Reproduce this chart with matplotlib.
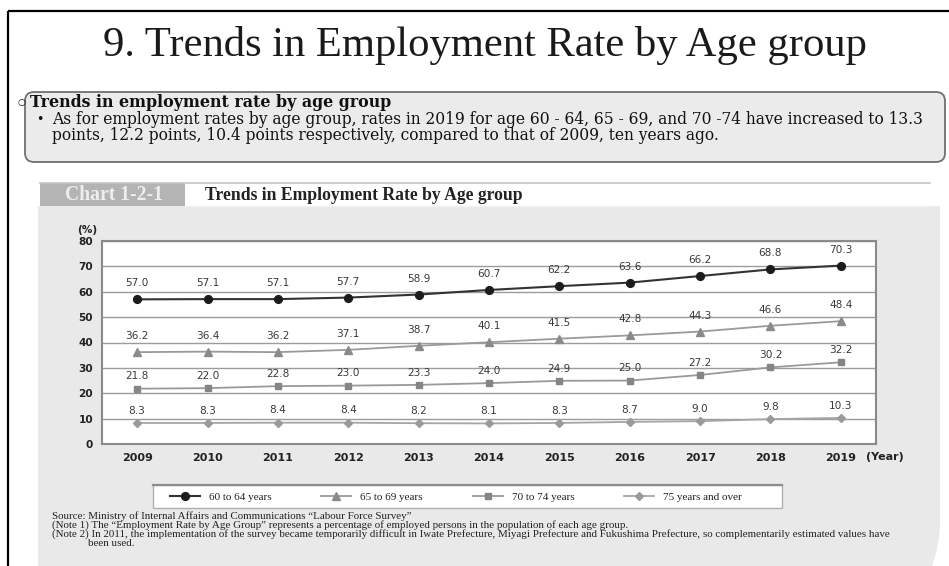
import matplotlib
matplotlib.use("Agg")
import numpy as np
import matplotlib.pyplot as plt
from matplotlib.patches import FancyBboxPatch, Rectangle, Polygon

# ---- data -------------------------------------------------------------
years = ["2009", "2010", "2011", "2012", "2013", "2014",
         "2015", "2016", "2017", "2018", "2019"]
rate_60_64 = [57.0, 57.1, 57.1, 57.7, 58.9, 60.7, 62.2, 63.6, 66.2, 68.8, 70.3]
rate_65_69 = [36.2, 36.4, 36.2, 37.1, 38.7, 40.1, 41.5, 42.8, 44.3, 46.6, 48.4]
rate_70_74 = [21.8, 22.0, 22.8, 23.0, 23.3, 24.0, 24.9, 25.0, 27.2, 30.2, 32.2]
rate_75_over = [8.3, 8.3, 8.4, 8.4, 8.2, 8.1, 8.3, 8.7, 9.0, 9.8, 10.3]
series_labels = ["60 to 64 years", "65 to 69 years", "70 to 74 years", "75 years and over"]
y_ticks = [0, 10, 20, 30, 40, 50, 60, 70, 80]

title = "9. Trends in Employment Rate by Age group"
summary_head = "Trends in employment rate by age group"
summary_lines = [
    "As for employment rates by age group, rates in 2019 for age 60 - 64, 65 - 69, "
    "and 70 -74 have increased to 13.3",
    "points, 12.2 points, 10.4 points respectively, compared to that of 2009, ten years ago.",
]
chart_tag = "Chart 1-2-1"
chart_title = "Trends in Employment Rate by Age group"
notes = [
    "Source: Ministry of Internal Affairs and Communications \u201cLabour Force Survey\u201d",
    "(Note 1) The \u201cEmployment Rate by Age Group\u201d represents a percentage of employed "
    "persons in the population of each age group.",
    "(Note 2) In 2011, the implementation of the survey became temporarily difficult in Iwate "
    "Prefecture, Miyagi Prefecture and Fukushima Prefecture, so complementarily estimated values have",
    "been used.",
]

# ---- figure and page background (pixel coordinates) -------------------
W, H = 949, 566
fig = plt.figure(figsize=(W / 100, H / 100), dpi=100)
fig.patch.set_facecolor("white")

bg = fig.add_axes([0, 0, 1, 1], zorder=0)
bg.set_xlim(0, W)
bg.set_ylim(H, 0)
bg.axis("off")

SERIF = "Liberation Serif"
WIDE_SERIF = "DejaVu Serif"
SANS = "DejaVu Sans"
renderer = fig.canvas.get_renderer()


def fit_width(t, width):
    w = t.get_window_extent(renderer).width
    t.set_fontsize(t.get_fontsize() * width / w)
    return t


def frac(x0, y0, x1, y1):
    return [x0 / W, 1 - y1 / H, (x1 - x0) / W, (y1 - y0) / H]


# slide frame
bg.plot([8, 8], [11, H + 5], color="black", lw=1.6, solid_capstyle="butt")
bg.plot([8, W + 5], [11, 11], color="black", lw=1.6, solid_capstyle="butt")

# slide title
t = bg.text(485, 56, title, family=SERIF, fontsize=29, color="#1a1a1a",
            ha="center", va="baseline")
fit_width(t, 765)

# summary box
bg.add_patch(FancyBboxPatch((25, 92), 920, 70,
                            boxstyle="round,pad=0,rounding_size=9",
                            fc="#ebebeb", ec="#707070", lw=1.3))
body = bg.text(52, 124, summary_lines[0], family=WIDE_SERIF, fontsize=10,
               color="#111111", ha="left", va="baseline")
fit_width(body, 880)
bs = body.get_fontsize()
bg.text(52, 140, summary_lines[1], family=WIDE_SERIF, fontsize=bs,
        color="#111111", ha="left", va="baseline")
bg.text(40, 123, "\u2022", family=SANS, fontsize=bs * 0.8, color="#111111",
        ha="center", va="baseline")
head = bg.text(30, 107, summary_head, family=WIDE_SERIF, fontsize=10, weight="bold",
               color="#111111", ha="left", va="baseline")
fit_width(head, 362)
bg.text(22, 103, "\u25cb", family=SANS, fontsize=bs * 0.6, color="#111111",
        ha="center", va="center")

# chart panel: square top, wide rounded bottom-right corner
cx, cy, r = 804, 520, 136
ang = np.linspace(0, np.pi / 2, 30)
arc = np.column_stack([cx + r * np.cos(ang), cy + r * np.sin(ang)])
panel = np.vstack([[[38, 206], [940, 206], [940, 520]], arc, [[38, 656]]])
bg.add_patch(Polygon(panel, closed=True, fc="#e9e9e9", ec="none"))
bg.plot([40, 930], [183, 183], color="#c4c4c4", lw=1.2)
bg.plot([185, 930], [206, 206], color="#f2f2f2", lw=1.0)
bg.add_patch(Rectangle((40, 183), 145, 23, fc="#b4b4b4", ec="none"))
tag = bg.text(114, 195, chart_tag, family=SERIF, fontsize=11, weight="bold",
              color="#eeeeee", ha="center", va="center")
fit_width(tag, 98)
ct = bg.text(205, 195, chart_title, family=SERIF, fontsize=10.5, weight="bold",
             color="#222222", ha="left", va="center")
fit_width(ct, 318)

# legend frame
bg.add_patch(Rectangle((153, 485), 629, 23, fc="white", ec="#b0b0b0", lw=1.0))
bg.plot([153, 782], [485, 485], color="#8c8c8c", lw=1.6)

# notes
note_y = [519, 528, 537, 546]
note_x = [52, 52, 52, 88]
nt = bg.text(note_x[2], note_y[2], notes[2], family=SERIF, fontsize=6,
             color="#222222", ha="left", va="baseline")
fit_width(nt, 852)
ns = nt.get_fontsize()
for i in (0, 1, 3):
    bg.text(note_x[i], note_y[i], notes[i], family=SERIF, fontsize=ns,
            color="#222222", ha="left", va="baseline")

# ---- line chart ------------------------------------------------------
ax = fig.add_axes(frac(102, 241, 876, 444), zorder=2)
ax.set_facecolor("white")
x = list(range(len(years)))

series = [rate_60_64, rate_65_69, rate_70_74, rate_75_over]
styles = [
    dict(marker="o", color="#333333", mfc="#1c1c1c", mec="#1c1c1c", ms=5.6, lw=1.5),
    dict(marker="^", color="#9a9a9a", mfc="#8a8a8a", mec="#8a8a8a", ms=5.4, lw=1.3),
    dict(marker="s", color="#9a9a9a", mfc="#858585", mec="#858585", ms=4.8, lw=1.3),
    dict(marker="D", color="#a5a5a5", mfc="#9a9a9a", mec="#9a9a9a", ms=4.4, lw=1.3),
]
label_offsets = [11.5, 11.5, 8.8, 8.8]

handles = []
for vals, st, lab, off in zip(series, styles, series_labels, label_offsets):
    (ln,) = ax.plot(x, vals, label=lab, zorder=3, **st)
    handles.append(ln)
    for xi, v in zip(x, vals):
        ax.annotate(f"{v:.1f}", (xi, v), xytext=(0, off), textcoords="offset points",
                    ha="center", va="center", fontsize=7.6, family=SANS,
                    color="#3a3a3a")

ax.set_xlim(-0.5, len(years) - 0.5)
ax.set_ylim(0, 80)
ax.set_xticks(x)
ax.set_xticklabels(years)
ax.set_yticks(y_ticks)
ax.set_yticklabels([str(v) for v in y_ticks])
ax.tick_params(length=0)
ax.tick_params(axis="x", pad=6.5, labelsize=8, colors="#222222")
ax.tick_params(axis="y", pad=6.5, labelsize=7.6, colors="#222222")
for lbl in ax.get_xticklabels():
    lbl.set_family(SANS)
    lbl.set_weight("bold")
for lbl in ax.get_yticklabels():
    lbl.set_family(SANS)
    lbl.set_weight("bold")
ax.yaxis.grid(True, color="#9c9c9c", lw=1.0)
ax.set_axisbelow(True)
for sp in ax.spines.values():
    sp.set_color("#8a8a8a")
    sp.set_linewidth(1.5)

bg.text(87, 230, "(%)", family=SANS, fontsize=7.6, weight="bold",
        color="#222222", ha="center", va="center")
bg.text(866, 457, "(Year)", family=SANS, fontsize=8, weight="bold",
        color="#222222", ha="left", va="center")

leg = fig.legend(handles=handles, labels=series_labels, loc="center",
                 bbox_to_anchor=(456 / W, 1 - 497 / H), ncol=4, frameon=False,
                 prop={"family": SERIF, "size": 8}, handlelength=2.7,
                 handletextpad=0.8, columnspacing=4.5)
for txt in leg.get_texts():
    txt.set_color("#222222")

fig.savefig("out.png", dpi=100, facecolor="white")
